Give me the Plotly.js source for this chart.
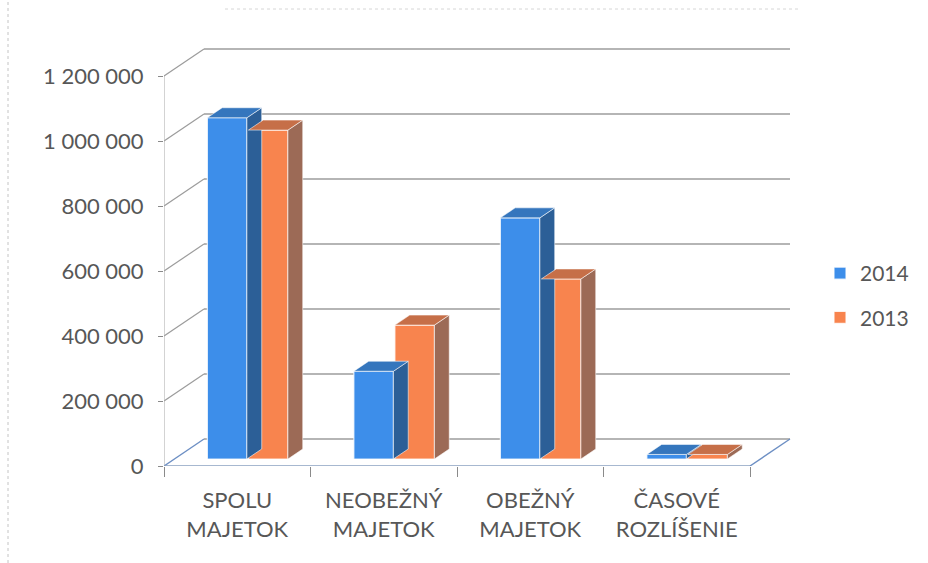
<!DOCTYPE html>
<html>
<head>
<meta charset="utf-8">
<script src="https://cdn.plot.ly/plotly-3.0.1.min.js"></script>
<style>html,body{margin:0;padding:0;background:#fff;}#chart{width:928px;height:563px;}</style>
</head>
<body>
<div id="chart"></div>
<script>
// ---- data ----
const categories = ['SPOLU<br>MAJETOK', 'NEOBEŽNÝ<br>MAJETOK', 'OBEŽNÝ<br>MAJETOK', 'ČASOVÉ<br>ROZLÍŠENIE'];
const seriesNames = ['2014', '2013'];
const values2014 = [1050000, 270000, 742000, 14000];
const values2013 = [1012000, 412000, 554000, 14000];
const yTickValues = [0, 200000, 400000, 600000, 800000, 1000000, 1200000];

// ---- geometry / style constants ----
const W = 928, H = 563;
const X0 = 164, Y0 = 466;            // pixel of front-axis origin
const PX_CAT = 146.5;                // px per category
const PX_Y = 325 / 1e6;              // px per unit value
const XR = [-0.5, 3.8], YR = [0, 1300000];
const DEPTH_DX = 40, DEPTH_DY = 27;  // full depth offset in px
const BAR_FRONT = 0.26, BAR_DEPTH = 0.37;
const barW = 0.27, offBlue = -0.275, offOrange = 0.005;

const C = {
  blue: '#3d8eea', blueTop: '#3576bd', blueSide: '#2c5f97',
  orange: '#f8844e', orangeTop: '#c66f48', orangeSide: '#9c6a56',
  grid: '#9c9c9c', floor: '#6d8fc4', text: '#575757'
};

const xDomW = (XR[1] - XR[0]) * PX_CAT;
const yDomH = (YR[1] - YR[0]) * PX_Y;
function dom(shiftX, shiftY) {
  const left = X0 + shiftX, bottom = Y0 - shiftY;
  return {
    x: [left / W, (left + xDomW) / W],
    y: [(H - bottom) / H, (H - bottom + yDomH) / H]
  };
}
const d1 = dom(0, 0);
const d3 = dom(DEPTH_DX * BAR_FRONT, DEPTH_DY * BAR_FRONT);

// depth in data units
const fullDx = DEPTH_DX / PX_CAT, fullDy = DEPTH_DY / PX_Y;
const barDx = BAR_DEPTH * DEPTH_DX / PX_CAT, barDy = BAR_DEPTH * DEPTH_DY / PX_Y;

const traces = [];
function seg(xs, ys, color, width) {
  traces.push({type: 'scatter', mode: 'lines', x: xs, y: ys, xaxis: 'x', yaxis: 'y',
    line: {color: color, width: width || 1.3}, hoverinfo: 'skip', showlegend: false});
}
// back wall gridlines and left wall diagonals
const gx = [], gy = [], dx = [], dy = [];
yTickValues.forEach(v => {
  gx.push(-0.5 + fullDx, 3.5 + fullDx, null); gy.push(v + fullDy, v + fullDy, null);
  if (v > 0) { dx.push(-0.5, -0.5 + fullDx, null); dy.push(v, v + fullDy, null); }
});
seg(gx, gy, C.grid, 1.4);
seg(dx, dy, C.grid, 1.2);
// front y axis line
seg([-0.5, -0.5], [0, yTickValues[yTickValues.length - 1]], '#a8a8a8', 1);
// floor
seg([-0.5, -0.5 + fullDx], [0, fullDy], C.floor, 1.4);
seg([-0.5, 3.5], [0, 0], '#8aa0c0', 1.4);
seg([3.5, 3.5 + fullDx], [0, fullDy], C.floor, 1.4);

function faces(vals, off, colorTop, colorSide) {
  const sx = [], sy = [], tx = [], ty = [];
  vals.forEach((v, i) => {
    const x0 = i + off, x1 = x0 + barW;
    sx.push(x1, x1, x1 + barDx, x1 + barDx, x1, null);
    sy.push(0, v, v + barDy, barDy, 0, null);
    tx.push(x0, x1, x1 + barDx, x0 + barDx, x0, null);
    ty.push(v, v, v + barDy, v + barDy, v, null);
  });
  const common = {type: 'scatter', mode: 'lines', fill: 'toself', xaxis: 'x3', yaxis: 'y3',
    hoverinfo: 'skip', showlegend: false, line: {color: 'rgba(255,255,255,0.55)', width: 1}};
  traces.push(Object.assign({x: sx, y: sy, fillcolor: colorSide}, common));
  traces.push(Object.assign({x: tx, y: ty, fillcolor: colorTop}, common));
}
function bars(vals, off, color, name) {
  traces.push({type: 'bar', name: name, x: [0, 1, 2, 3], y: vals, width: barW, offset: off,
    xaxis: 'x3', yaxis: 'y3', legendgroup: name,
    marker: {color: color, line: {color: 'rgba(255,255,255,0.8)', width: 1.2}}});
}
faces(values2014, offBlue, C.blueTop, C.blueSide);
bars(values2014, offBlue, C.blue, seriesNames[0]);
faces(values2013, offOrange, C.orangeTop, C.orangeSide);
bars(values2013, offOrange, C.orange, seriesNames[1]);

const font = {family: 'Lato, "Open Sans", sans-serif', color: C.text};

const layout = {
  width: W, height: H,
  margin: {l: 0, r: 0, t: 0, b: 0},
  paper_bgcolor: '#fff', plot_bgcolor: 'rgba(0,0,0,0)',
  separators: ', ',
  barmode: 'overlay',
  font: Object.assign({size: 21}, font),
  showlegend: true,
  legend: {x: 820 / W, y: (H - 253) / H, xanchor: 'left', yanchor: 'top',
    font: Object.assign({size: 21}, font), tracegroupgap: 14, bgcolor: 'rgba(0,0,0,0)'},
  xaxis: {domain: d1.x, range: XR, anchor: 'y', showgrid: false, zeroline: false, showline: false,
    tickmode: 'array', tickvals: [0, 1, 2, 3], ticktext: categories, ticks: '',
    ticklabelstandoff: 19,
    minor: {tick0: -0.5, dtick: 1, ticks: 'outside', ticklen: 10, tickcolor: '#8a8a8a', tickwidth: 1},
    tickfont: Object.assign({size: 22}, font), fixedrange: true},
  yaxis: {domain: d1.y, range: YR, anchor: 'x', showgrid: false, zeroline: false, showline: false,
    tickmode: 'array', tickvals: yTickValues, tickformat: ',d', ticks: 'outside', ticklen: 5,
    tickcolor: '#8a8a8a', ticklabelstandoff: 10,
    tickfont: Object.assign({size: 22}, font), fixedrange: true},
  xaxis3: {domain: d3.x, range: XR, anchor: 'y3', visible: false, fixedrange: true},
  yaxis3: {domain: d3.y, range: YR, anchor: 'x3', visible: false, fixedrange: true},
  shapes: [
    {type: 'line', xref: 'paper', yref: 'paper', x0: 8 / W, x1: 8 / W, y0: 0, y1: 1,
      line: {color: '#c4c4c4', width: 1, dash: 'dot'}},
    {type: 'line', xref: 'paper', yref: 'paper', x0: 225 / W, x1: 800 / W, y0: (H - 9) / H, y1: (H - 9) / H,
      line: {color: '#d6d6d6', width: 1, dash: 'dot'}}
  ]
};

Plotly.newPlot('chart', traces, layout, {displayModeBar: false, staticPlot: true});
</script>
</body>
</html>
